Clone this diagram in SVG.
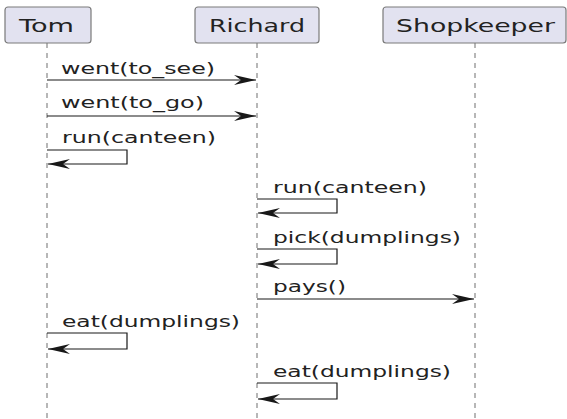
<svg xmlns="http://www.w3.org/2000/svg" width="567" height="419" viewBox="0 0 567 419">
<style>
.box{fill:#E2E2F0;stroke:#7a7a7a;stroke-width:1.2}
.life{stroke:#a0a0a0;stroke-width:1.5;stroke-dasharray:5,5;fill:none}
.pt{font-family:"DejaVu Sans",sans-serif;font-size:17.5px;fill:#222222}
.mt{font-family:"DejaVu Sans",sans-serif;font-size:15px;fill:#222222}
.msg{stroke:#181818;stroke-width:1.2;fill:none;marker-end:url(#ah)}
</style>
<defs>
<marker id="ah" markerUnits="userSpaceOnUse" viewBox="-24 -7 25 14" markerWidth="25" markerHeight="14" refX="0" refY="0" orient="auto">
<path d="M0,0 L-22,-5 L-15,0 L-22,5 Z" fill="#181818"/>
</marker>
</defs>
<rect width="567" height="419" fill="#ffffff"/>
<g id="lifelines">
<line class="life" x1="47" y1="43" x2="47" y2="419"/>
<line class="life" x1="257" y1="43" x2="257" y2="419"/>
<line class="life" x1="475" y1="43" x2="475" y2="419"/>
</g>
<g id="tom">
<rect class="box" x="5" y="7" width="86" height="36" rx="3"/>
<text class="pt" x="19" y="32" textLength="55" lengthAdjust="spacingAndGlyphs">Tom</text>
</g>
<g id="richard">
<rect class="box" x="195" y="7" width="124" height="36" rx="3"/>
<text class="pt" x="209" y="32" textLength="96" lengthAdjust="spacingAndGlyphs">Richard</text>
</g>
<g id="shopkeeper">
<rect class="box" x="383" y="7" width="183" height="36" rx="3"/>
<text class="pt" x="396" y="32" textLength="159" lengthAdjust="spacingAndGlyphs">Shopkeeper</text>
</g>
<g id="connectors">
<path class="msg" d="M47,80 H256"/>
<path class="msg" d="M47,116 H256"/>
<path class="msg" d="M47,150 H127 V164 H48"/>
<path class="msg" d="M257,199 H337 V213 H258"/>
<path class="msg" d="M257,249 H337 V264 H258"/>
<path class="msg" d="M257,299 H474"/>
<path class="msg" d="M47,333 H127 V349 H48"/>
<path class="msg" d="M257,383 H337 V399 H258"/>
</g>
<g id="labels">
<text class="mt" x="61" y="74" textLength="154" lengthAdjust="spacingAndGlyphs">went(to_see)</text>
<text class="mt" x="61" y="108" textLength="143" lengthAdjust="spacingAndGlyphs">went(to_go)</text>
<text class="mt" x="62" y="143" textLength="154" lengthAdjust="spacingAndGlyphs">run(canteen)</text>
<text class="mt" x="273" y="193" textLength="154" lengthAdjust="spacingAndGlyphs">run(canteen)</text>
<text class="mt" x="273" y="243" textLength="188" lengthAdjust="spacingAndGlyphs">pick(dumplings)</text>
<text class="mt" x="273" y="292" textLength="73" lengthAdjust="spacingAndGlyphs">pays()</text>
<text class="mt" x="62" y="327" textLength="178" lengthAdjust="spacingAndGlyphs">eat(dumplings)</text>
<text class="mt" x="273" y="377" textLength="178" lengthAdjust="spacingAndGlyphs">eat(dumplings)</text>
</g>
</svg>
